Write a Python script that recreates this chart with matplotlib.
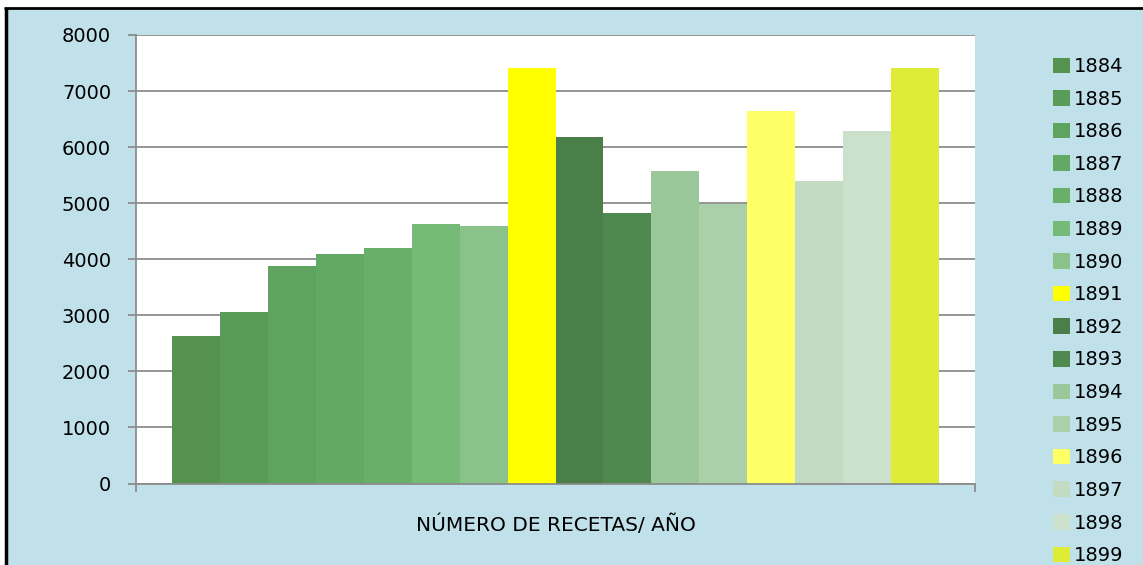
import matplotlib.pyplot as plt
from matplotlib.patches import Rectangle
from matplotlib.lines import Line2D

# recipes per year
years = ['1884', '1885', '1886', '1887', '1888', '1889', '1890', '1891',
         '1892', '1893', '1894', '1895', '1896', '1897', '1898', '1899']
recetas = [2635, 3060, 3880, 4090, 4195, 4620, 4585, 7415,
           6180, 4830, 5570, 4980, 6640, 5400, 6290, 7415]
colores = ['#55924F', '#5A9B5A', '#5FA361', '#63A966', '#68B06A', '#76BA77',
           '#8AC38A', '#FFFF00', '#4A7F4A', '#4F894F', '#9BC89A', '#A9D0A8',
           '#FFFF66', '#C2DBC2', '#CCE1CC', '#DEEB37']
yticks = [0, 1000, 2000, 3000, 4000, 5000, 6000, 7000, 8000]

bg = '#C0E0EA'
gris = '#8C8C8C'

fig = plt.figure(figsize=(11.43, 5.65), dpi=100)
fig.patch.set_facecolor('white')

# blue panel with black edge on left and top
W, H = 1143, 565
fig.patches.append(Rectangle((7 / W, 0), 1, 1 - 9 / H, transform=fig.transFigure,
                             facecolor=bg, edgecolor='none', zorder=-2))
fig.lines.append(Line2D([5.5 / W, 5.5 / W], [0, 1 - 8 / H], transform=fig.transFigure,
                        color='black', lw=2.5, solid_capstyle='butt'))
fig.lines.append(Line2D([4 / W, 1], [1 - 8 / H, 1 - 8 / H], transform=fig.transFigure,
                        color='black', lw=2.0, solid_capstyle='butt'))

ax = fig.add_axes([136 / W, 1 - 483.5 / H, 839 / W, 448.5 / H])
ax.set_facecolor('white')

x = range(len(years))
bars = ax.bar(x, recetas, width=1.0, color=colores, edgecolor='none', zorder=3)

gap = 0.746  # space between the outer bars and the plot edges, in bar widths
x0, x1 = -0.5 - gap, len(years) - 0.5 + gap
ax.set_ylim(0, 8000)
ax.set_xlim(x0, x1)
ax.set_yticks(yticks)
ax.set_yticklabels([str(v) for v in yticks])
ax.set_xticks([x0, x1])
ax.set_xticklabels(['', ''])
ax.grid(axis='y', color=gris, lw=1.3, zorder=1)
ax.tick_params(axis='y', length=6, width=1.3, color=gris, pad=12, labelsize=14)
ax.tick_params(axis='x', length=6, width=1.3, color=gris, direction='out')
for s in ['top', 'right']:
    ax.spines[s].set_visible(False)
for s in ['left', 'bottom']:
    ax.spines[s].set_color(gris)
    ax.spines[s].set_linewidth(1.3)
ax.spines['bottom'].set_zorder(4)

ax.set_xlabel('NÚMERO DE RECETAS/ AÑO', fontsize=14.5, labelpad=13)

leg = ax.legend(bars, years, loc='upper left', bbox_to_anchor=(1053 / W, 1 - 57 / H),
                bbox_transform=fig.transFigure, frameon=False, fontsize=14,
                handlelength=0.85, handleheight=0.85, handletextpad=0.2,
                labelspacing=0.70, borderpad=0, borderaxespad=0)

fig.savefig('out.png', dpi=100, facecolor=fig.get_facecolor())
